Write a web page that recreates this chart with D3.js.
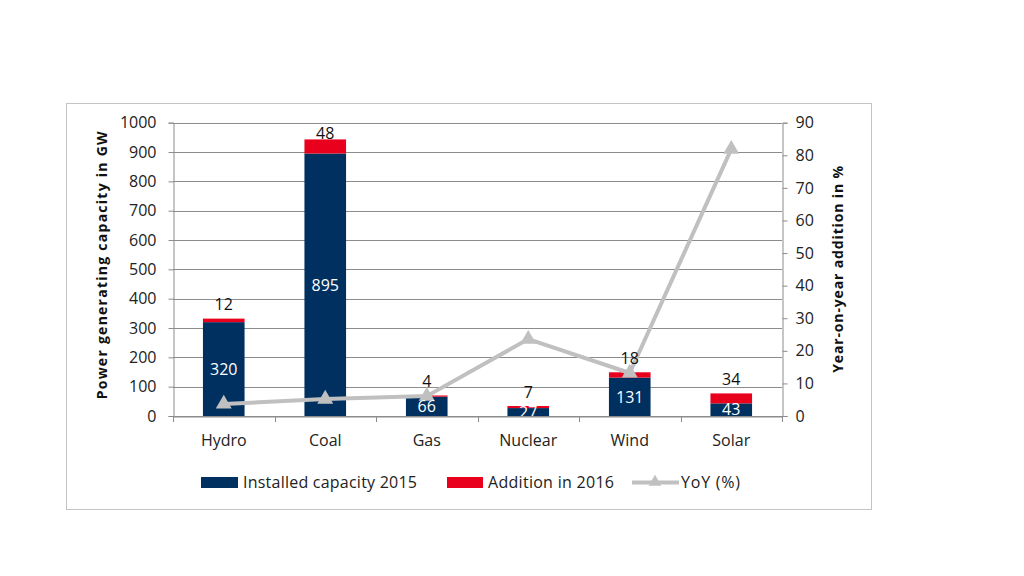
<!DOCTYPE html>
<html><head><meta charset="utf-8">
<script src="https://cdn.jsdelivr.net/npm/d3@7"></script>
<style>
html,body{margin:0;padding:0;background:#fff;}
text{font-family:"Open Sans",sans-serif;}
</style></head>
<body><svg id="c" width="1024" height="576"></svg>
<script>
const categories = ["Hydro","Coal","Gas","Nuclear","Wind","Solar"];
const installed2015 = [320,895,66,27,131,43];
const addition2016 = [12,48,4,7,18,34];
const yoy = [3.7,5.2,6.1,23.6,13.2,81.9];
const leftTicks = [0,100,200,300,400,500,600,700,800,900,1000];
const rightTicks = [0,10,20,30,40,50,60,70,80,90];
const seriesNames = ["Installed capacity 2015","Addition in 2016","YoY (%)"];

const navy = "#00305f", red = "#e8001c", grey = "#c0c0c0", gridc = "#8c8c8c";
const FF = "'Open Sans',sans-serif";
const FS = 16;
const svg = d3.select("#c");
const m = {l:173, r:782, t:122.7, b:416};

svg.append("rect").attr("x",66.5).attr("y",103.5).attr("width",805).attr("height",406)
  .attr("fill","#fff").attr("stroke","#c4c4c4").attr("stroke-width",1);

const x = d3.scaleBand().domain(categories).range([m.l,m.r]).paddingInner(0.59).paddingOuter(0.295);
const xb = d3.scaleBand().domain(categories).range([m.l,m.r]);
const y = d3.scaleLinear().domain([0,1000]).range([m.b,m.t]);
const y2 = d3.scaleLinear().domain([0,90]).range([m.b,m.t]);

// gridlines
svg.append("g").selectAll("line").data(leftTicks).join("line")
  .attr("x1",m.l).attr("x2",m.r).attr("y1",d=>Math.round(y(d))+0.5).attr("y2",d=>Math.round(y(d))+0.5)
  .attr("stroke",gridc).attr("stroke-width",1);

// left axis
const gl = svg.append("g").attr("transform",`translate(${m.l+0.5},0)`)
  .call(d3.axisLeft(y).tickValues(leftTicks).tickSize(5).tickPadding(12).tickFormat(d3.format("d")));
gl.select(".domain").attr("stroke",gridc);
gl.selectAll(".tick line").attr("stroke",gridc);
gl.selectAll("text").attr("font-size",FS).attr("fill","#222").style("font-family",FF);

// right axis
const gr = svg.append("g").attr("transform",`translate(${m.r+0.5},0)`)
  .call(d3.axisRight(y2).tickValues(rightTicks).tickSize(5).tickPadding(8).tickFormat(d3.format("d")));
gr.select(".domain").attr("stroke",gridc);
gr.selectAll(".tick line").attr("stroke",gridc);
gr.selectAll("text").attr("font-size",FS).attr("fill","#222").style("font-family",FF);

// bottom axis
const gb = svg.append("g").attr("transform",`translate(0,${m.b+0.5})`)
  .call(d3.axisBottom(xb).tickSize(0).tickPadding(18));
gb.select(".domain").attr("stroke",gridc);
gb.selectAll("text").attr("font-size",FS).attr("fill","#222").style("font-family",FF);
svg.append("g").selectAll("line").data(d3.range(categories.length+1)).join("line")
  .attr("x1",i=>Math.round(m.l+i*xb.step())+0.5).attr("x2",i=>Math.round(m.l+i*xb.step())+0.5)
  .attr("y1",m.b).attr("y2",m.b+6).attr("stroke",gridc);

// bars
const data = categories.map((c,i)=>({c, a:installed2015[i], b:addition2016[i], yy:yoy[i]}));
svg.append("g").selectAll("rect").data(data).join("rect")
  .attr("x",d=>x(d.c)).attr("width",x.bandwidth())
  .attr("y",d=>y(d.a)).attr("height",d=>y(0)-y(d.a)).attr("fill",navy);
svg.append("g").selectAll("rect").data(data).join("rect")
  .attr("x",d=>x(d.c)).attr("width",x.bandwidth())
  .attr("y",d=>y(d.a+d.b)).attr("height",d=>y(d.a)-y(d.a+d.b)).attr("fill",red);

// clip for inner labels
svg.append("clipPath").attr("id","pc").append("rect").attr("x",m.l).attr("y",m.t).attr("width",m.r-m.l).attr("height",m.b-m.t);

// line
const line = d3.line().x(d=>xb(d.c)+xb.bandwidth()/2).y(d=>y2(d.yy));
svg.append("path").datum(data).attr("d",line).attr("fill","none").attr("stroke",grey).attr("stroke-width",4).attr("stroke-linejoin","round");
const tri = d3.symbol().type(d3.symbolTriangle).size(110);
svg.append("g").selectAll("path").data(data).join("path")
  .attr("d",tri).attr("transform",d=>`translate(${xb(d.c)+xb.bandwidth()/2},${y2(d.yy)})`).attr("fill",grey);

// inner labels
svg.append("g").attr("clip-path","url(#pc)").selectAll("text").data(data).join("text")
  .attr("x",d=>x(d.c)+x.bandwidth()/2).attr("y",d=>y(d.a/2)).attr("dy","0.36em")
  .attr("text-anchor","middle").attr("font-size",FS).attr("fill","#fff").text(d=>d.a);

// top labels
svg.append("g").selectAll("text").data(data).join("text")
  .attr("x",d=>x(d.c)+x.bandwidth()/2).attr("y",d=>Math.max(y(d.a+d.b)-14, m.t+11)).attr("dy","0.36em")
  .attr("text-anchor","middle").attr("font-size",FS).attr("fill","#111").text(d=>d.b);

// axis titles
svg.append("text").attr("transform",`translate(107,${(m.t+m.b)/2 - 4}) rotate(-90)`)
  .attr("text-anchor","middle").attr("font-size",14).attr("font-weight","bold").attr("fill","#111")
  .attr("textLength",268).attr("lengthAdjust","spacing")
  .text("Power generating capacity  in GW");
svg.append("text").attr("transform",`translate(843,${(m.t+m.b)/2}) rotate(-90)`)
  .attr("text-anchor","middle").attr("font-size",14).attr("font-weight","bold").attr("fill","#111")
  .attr("textLength",207).attr("lengthAdjust","spacing")
  .text("Year-on-year addition in %");

// legend
const lg = svg.append("g");
lg.append("rect").attr("x",201).attr("y",477).attr("width",37).attr("height",11).attr("fill",navy);
lg.append("text").attr("x",243).attr("y",482.5).attr("dy","0.36em").attr("font-size",FS).attr("fill","#222")
  .attr("textLength",174).attr("lengthAdjust","spacing").text(seriesNames[0]);
lg.append("rect").attr("x",447).attr("y",477).attr("width",36).attr("height",11).attr("fill",red);
lg.append("text").attr("x",488).attr("y",482.5).attr("dy","0.36em").attr("font-size",FS).attr("fill","#222")
  .attr("textLength",126).attr("lengthAdjust","spacing").text(seriesNames[1]);
lg.append("line").attr("x1",632).attr("x2",679).attr("y1",482.5).attr("y2",482.5).attr("stroke",grey).attr("stroke-width",4);
lg.append("path").attr("d",d3.symbol().type(d3.symbolTriangle).size(70)).attr("transform","translate(655,482)").attr("fill",grey);
lg.append("text").attr("x",681).attr("y",482.5).attr("dy","0.36em").attr("font-size",FS).attr("fill","#222")
  .attr("textLength",59).attr("lengthAdjust","spacing").text(seriesNames[2]);
</script></body></html>
